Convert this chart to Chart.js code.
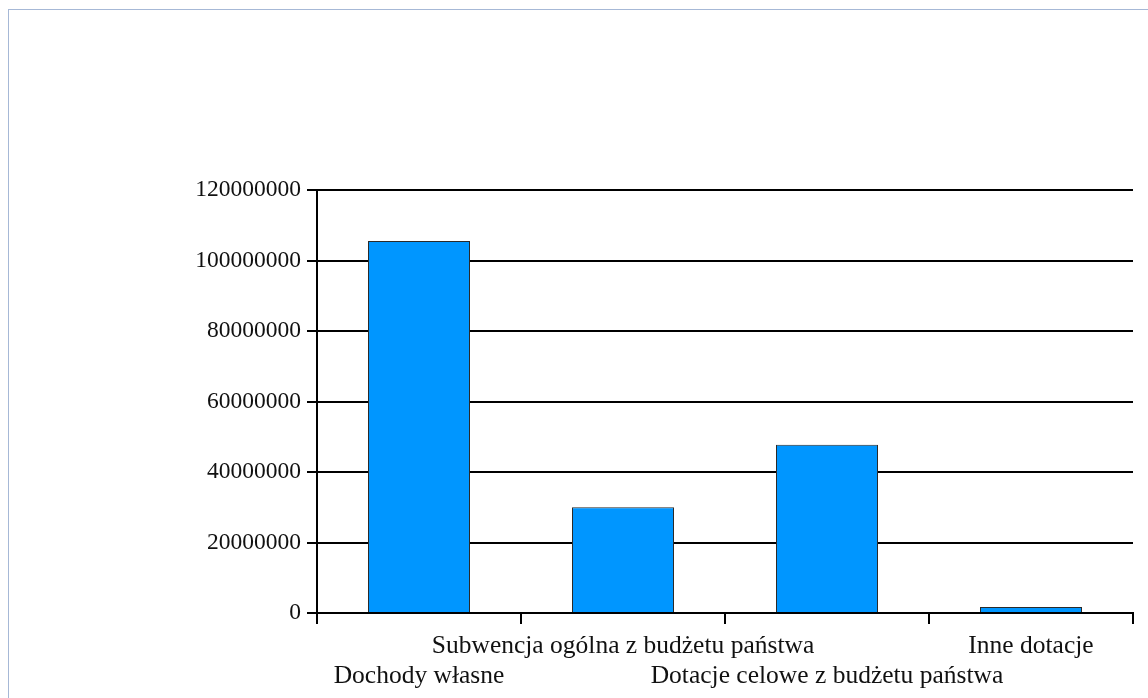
<!DOCTYPE html>
<html>
<head>
<meta charset="utf-8">
<script src="https://cdn.jsdelivr.net/npm/chart.js@4"></script>
<style>
  html, body { margin: 0; padding: 0; background: #fff; overflow: hidden; }
  #frame {
    position: absolute; left: 8px; top: 9px; width: 1200px; height: 800px;
    border-top: 1px solid #a6b8d6; border-left: 1px solid #a6b8d6;
  }
  #wrap { position: absolute; left: 0; top: 0; width: 1148px; height: 698px; }
</style>
</head>
<body>
<div id="frame"></div>
<div id="wrap"><canvas id="wykres"></canvas></div>
<script>
// Dane
const kategorie = [
  "Dochody własne",
  "Subwencja ogólna z budżetu państwa",
  "Dotacje celowe z budżetu państwa",
  "Inne dotacje"
];
const wartosci = [105500000, 30000000, 47700000, 1700000];
const osY = { min: 0, max: 120000000, krok: 20000000 };

// etykiety naprzemiennie w dwóch wierszach
const etykiety = kategorie.map((k, i) => i % 2 === 0 ? ["", k] : [k, ""]);

const rodzina = "'Liberation Serif', 'Times New Roman', serif";

new Chart(document.getElementById("wykres"), {
  type: "bar",
  data: {
    labels: etykiety,
    datasets: [{
      data: wartosci,
      backgroundColor: "#0096FF",
      borderColor: "#2a2a2a",
      borderWidth: 1,
      barPercentage: 0.5,
      categoryPercentage: 1
    }]
  },
  options: {
    responsive: true,
    maintainAspectRatio: false,
    animation: false,
    layout: { padding: { top: 190, right: 15, left: 0, bottom: 0 } },
    plugins: { legend: { display: false }, tooltip: { enabled: false } },
    scales: {
      x: {
        grid: { offset: true, drawOnChartArea: false, color: "#000", lineWidth: 2, tickLength: 11 },
        border: { color: "#000", width: 2 },
        ticks: {
          color: "#111",
          font: { family: rodzina, size: 25.5, lineHeight: "30px" },
          maxRotation: 0, autoSkip: false, padding: 7
        }
      },
      y: {
        min: osY.min,
        max: osY.max,
        afterFit: s => { s.width = 317; },
        grid: { color: "#000", lineWidth: 2, tickLength: 10 },
        border: { color: "#000", width: 2 },
        ticks: {
          stepSize: osY.krok,
          color: "#111",
          font: { family: rodzina, size: 23.5 },
          padding: 6,
          callback: v => String(v)
        }
      }
    }
  }
});
</script>
</body>
</html>
